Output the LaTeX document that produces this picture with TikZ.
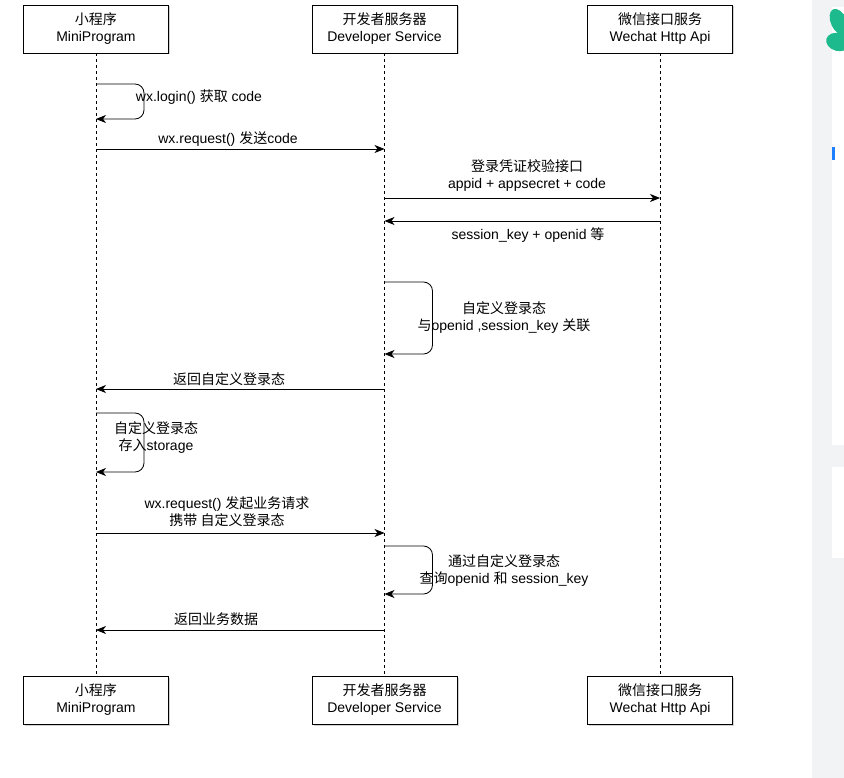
\documentclass[tikz,border=0pt]{standalone}
\usepackage{fontspec}
\setmainfont{Liberation Sans}
\newfontfamily\cjk{Noto Sans CJK SC}
\newcommand{\zh}[1]{{\cjk #1}}
\usetikzlibrary{arrows.meta,positioning,shadows}
\definecolor{pagegray}{RGB}{242,243,245}
\definecolor{jjgreen}{RGB}{28,186,140}
\definecolor{jjblue}{RGB}{30,128,255}

\begin{document}
\begin{tikzpicture}[x=1pt, y=-1pt,
  actor/.style  ={draw, fill=white, minimum width=145pt, minimum height=48pt, align=center,
                  font=\fontsize{14}{17}\selectfont, inner sep=0pt, line width=.8pt,
                  drop shadow={shadow xshift=1.5pt, shadow yshift=-1.5pt, opacity=.35, fill=gray}},
  life/.style   ={dash pattern=on 3pt off 3pt, line width=.8pt},
  msg/.style    ={-{Stealth[length=10pt,width=8pt,inset=3pt]}, line width=.8pt},
  loopmsg/.style={msg, rounded corners=9pt},
  lbl/.style    ={font=\fontsize{14}{17}\selectfont, align=center, inner sep=0pt}
]
\useasboundingbox (0,0) rectangle (844,778);
\fill[white] (0,0) rectangle (844,778);

%%% ---- page margin on the right -----------------------------------------
\fill[pagegray] (812,0) rectangle (844,778);
\fill[white] (832,7) rectangle (844,445);
\fill[white] (832,467) rectangle (844,558);
\fill[jjblue] (832,147) rectangle (835,160);
\fill[jjgreen, rotate around={25:(839,22)}] (839,22) ellipse (8 and 14);
\fill[jjgreen, rotate around={-15:(838,42)}] (838,42) ellipse (12 and 9);

%%% ---- actors (top + bottom) --------------------------------------------
\node[actor] (mp)   at (96,29)    {\zh{小程序}\\MiniProgram};
\node[actor] (dev)  at (384.5,29) {\zh{开发者服务器}\\Developer Service};
\node[actor] (api)  at (660,29)   {\zh{微信接口服务}\\Wechat Http Api};

\node[actor] (mpB)  at (96,700)    {\zh{小程序}\\MiniProgram};
\node[actor] (devB) at (384.5,700) {\zh{开发者服务器}\\Developer Service};
\node[actor] (apiB) at (660,700)   {\zh{微信接口服务}\\Wechat Http Api};

% lifelines
\draw[life] (mp.south)  -- (mpB.north);
\draw[life] (dev.south) -- (devB.north);
\draw[life] (api.south) -- (apiB.north);

%%% ---- message rows -----------------------------------------------------
\coordinate (r1a) at (0,84);  \coordinate (r1b) at (0,119);
\coordinate (r2)  at (0,149);
\coordinate (r3)  at (0,198);
\coordinate (r4)  at (0,221);
\coordinate (r5a) at (0,282); \coordinate (r5b) at (0,354);
\coordinate (r6)  at (0,389);
\coordinate (r7a) at (0,413); \coordinate (r7b) at (0,472);
\coordinate (r8)  at (0,533);
\coordinate (r9a) at (0,546); \coordinate (r9b) at (0,594);
\coordinate (r10) at (0,630);

% login
\draw[loopmsg] (mp |- r1a) -- ++(48,0) |- (mp |- r1b);
\node[lbl] (login) at (199,97) {wx.login() \zh{获取} code};

\draw[msg] (mp |- r2) -- (dev |- r2);
\node[lbl] (send) at (228,139) {wx.request() \zh{发送}code};

% code2session
\draw[msg] (dev |- r3) -- (api |- r3);
\node[lbl] (check) at (527,175.5) {\zh{登录凭证校验接口}\\appid + appsecret + code};

\draw[msg] (api |- r4) -- (dev |- r4);
\node[lbl] (sess) at (528,235) {session\_key + openid \zh{等}};

% custom login state
\draw[loopmsg] (dev |- r5a) -- ++(48,0) |- (dev |- r5b);
\node[lbl] (bind) at (504,318) {\zh{自定义登录态}\\\zh{与}openid ,session\_key \zh{关联}};

\draw[msg] (dev |- r6) -- (mp |- r6);
\node[lbl] (ret) at (229,379) {\zh{返回自定义登录态}};

\draw[loopmsg] (mp |- r7a) -- ++(48,0) |- (mp |- r7b);
\node[lbl] (store) at (156,438) {\zh{自定义登录态}\\\zh{存入}storage};

% business request
\draw[msg] (mp |- r8) -- (dev |- r8);
\node[lbl] (biz) at (227,512) {wx.request() \zh{发起业务请求}\\\zh{携带 自定义登录态}};

\draw[loopmsg] (dev |- r9a) -- ++(48,0) |- (dev |- r9b);
\node[lbl] (query) at (504,570.5) {\zh{通过自定义登录态}\\\zh{查询}openid \zh{和} session\_key};

\draw[msg] (dev |- r10) -- (mp |- r10);
\node[lbl] (data) at (216,619) {\zh{返回业务数据}};

\end{tikzpicture}
\end{document}
